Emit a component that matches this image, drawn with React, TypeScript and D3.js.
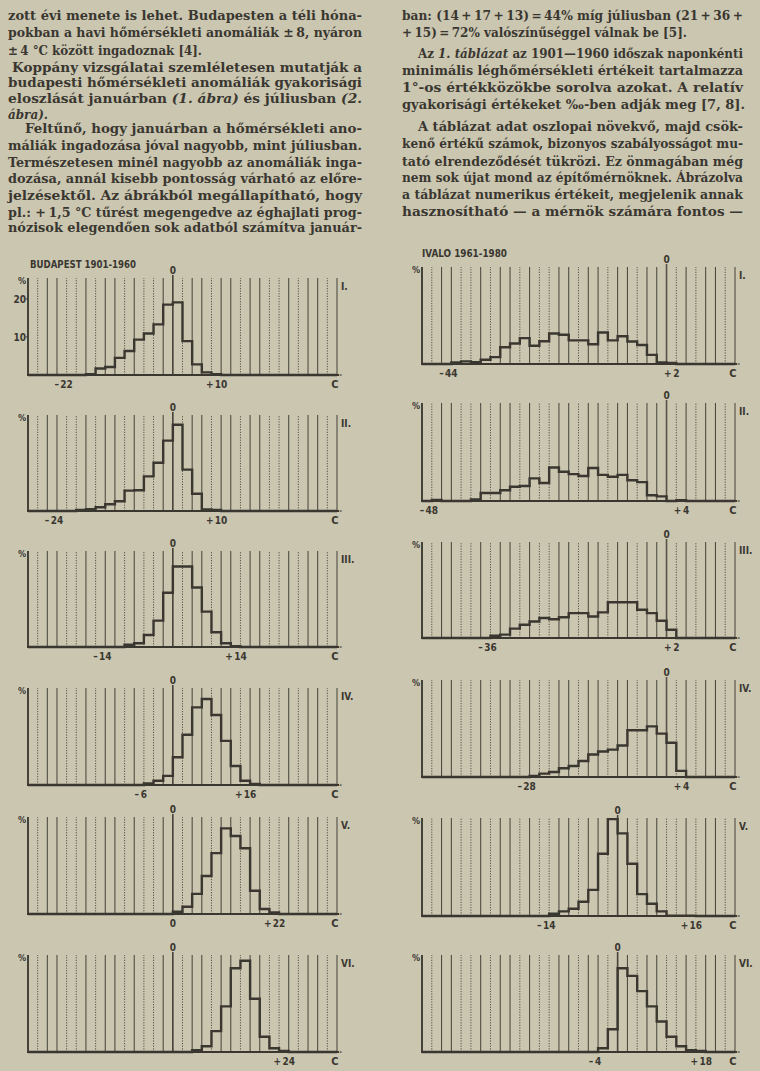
import React from "react";
import * as d3 from "d3";

// ---------- DATA ----------
// relative frequency (%) per 2 °C class, 32 classes per panel
const budI = [0,0,0,0,0,0,0.2,1.7,2.1,4.5,6.3,9.3,10.9,13.3,18.5,19.1,8.9,2.8,0.7,0.2,0,0,0,0,0,0,0,0,0,0,0,0];
const budII = [0,0,0,0,0,0.3,0.5,1.0,1.8,2.6,5.4,5.5,9.2,12.8,18.7,22.9,11.0,4.6,0.4,0.3,0,0,0,0,0,0,0,0,0,0,0,0];
const budIII = [0,0,0,0,0,0,0,0,0,0,0.6,1.0,3.2,7.0,14.4,21.4,21.4,15.8,9.4,3.9,1.0,0.2,0,0,0,0,0,0,0,0,0,0];
const budIV = [0,0,0,0,0,0,0,0,0,0,0,0,0.4,1.1,2.4,7.3,13.2,20.4,22.6,18.4,11.6,5.0,1.1,0.3,0,0,0,0,0,0,0,0];
const budV = [0,0,0,0,0,0,0,0,0,0,0,0,0,0,0,0.6,1.9,5.3,10.0,16.0,22.5,20.5,17.3,6.1,1.3,0.4,0,0,0,0,0,0];
const budVI = [0,0,0,0,0,0,0,0,0,0,0,0,0,0,0,0,0,0.5,1.5,5.5,12.0,22.0,24.0,14.0,4.0,1.0,0.3,0,0,0,0,0];

const ivaI = [0,0,0,0.4,0.7,0.5,1.1,1.8,4.4,5.4,6.8,4.8,6.0,8.0,7.7,6.2,6.2,5.2,8.3,6.2,7.3,5.9,5.0,2.4,0.4,0.3,0,0,0,0,0,0];
const ivaII = [0,0.3,0,0,0,0.4,2.1,2.1,2.8,3.7,3.9,5.9,4.7,8.7,7.6,7.0,6.5,8.6,6.8,6.3,6.8,5.4,4.9,1.5,1.2,0,0.2,0,0,0,0,0];
const ivaIII = [0,0,0,0,0,0,0,0.6,0.9,2.5,3.5,4.4,5.3,5.0,5.5,6.6,6.6,5.7,6.8,9.5,9.5,9.5,7.5,6.6,4.6,2.2,0,0,0,0,0,0];
const ivaIV = [0,0,0,0,0,0,0,0,0,0,0,0.3,0.9,1.3,2.3,2.9,4.2,5.9,6.7,7.2,8.3,12.3,12.3,13.3,11.4,9.0,1.6,0,0,0,0,0];
const ivaV = [0,0,0,0,0,0,0,0,0,0,0,0,0,0.6,1.2,1.9,3.7,6.8,16.2,25.2,21.5,13.6,5.7,3.2,1.2,0.1,0.1,0.1,0,0,0,0];
const ivaVI = [0,0,0,0,0,0,0,0,0,0,0,0,0,0,0,0,0,0,1.0,6.0,22.0,20.0,16.0,12.0,8.0,4.0,1.5,0.5,0.3,0,0,0];

const budSeries = [budI, budII, budIII, budIV, budV, budVI];
const ivaSeries = [ivaI, ivaII, ivaIII, ivaIV, ivaV, ivaVI];

// temperature at left edge of each panel (°C)
const budStart = [-30, -30, -30, -30, -30, -30];
const ivaStart = [-50, -50, -50, -50, -40, -40];

// bottom tick labels (°C)
const budTicks = [[-22, 10], [-24, 10], [-14, 14], [-6, 16], [0, 22], [24]];
const ivaTicks = [[-44, 2], [-48, 4], [-36, 2], [-28, 4], [-14, 16], [-4, 18]];
const budYTicks = [10, 20];

const months = ["I.", "II.", "III.", "IV.", "V.", "VI."];

const leftText = [
  "zott évi menete is lehet. Budapesten a téli hóna-",
  "pokban a havi hőmérsékleti anomáliák ±\u20098, nyáron",
  "±\u20094 °C között ingadoznak [4].",
  "Koppány vizsgálatai szemléletesen mutatják a",
  "budapesti hőmérsékleti anomáliák gyakorisági",
  "eloszlását januárban |(1. ábra)| és júliusban |(2.",
  "|ábra).",
  "Feltűnő, hogy januárban a hőmérsékleti ano-",
  "máliák ingadozása jóval nagyobb, mint júliusban.",
  "Természetesen minél nagyobb az anomáliák inga-",
  "dozása, annál kisebb pontosság várható az előre-",
  "jelzésektől. Az ábrákból megállapítható, hogy",
  "pl.: +\u20091,5 °C tűrést megengedve az éghajlati prog-",
  "nózisok elegendően sok adatból számítva január-",
];
const rightText = [
  "ban: (14\u2009+\u200917\u2009+\u200913)\u2009=\u200944% míg júliusban (21\u2009+\u200936\u2009+",
  "+\u200915)\u2009=\u200972% valószínűséggel válnak be [5].",
  "Az |1. táblázat| az 1901—1960 időszak naponkénti",
  "minimális léghőmérsékleti értékeit tartalmazza",
  "1°-os értékközökbe sorolva azokat. A relatív",
  "gyakorisági értékeket ‰-ben adják meg [7, 8].",
  "A táblázat adat oszlopai növekvő, majd csök-",
  "kenő értékű számok, bizonyos szabályosságot mu-",
  "tató elrendeződését tükrözi. Ez önmagában még",
  "nem sok újat mond az építőmérnöknek. Ábrázolva",
  "a táblázat numerikus értékeit, megjelenik annak",
  "hasznosítható — a mérnök számára fontos —",
];

// ---------- LAYOUT ----------
const W = 760, H = 1071;
const INK = "#3a3730";
const BG = "#cac6b0";
const LEFT = { x0: 28, x1: 337, tops: [278, 415, 551, 688, 817, 955], bases: [375, 511, 647, 785, 914, 1052] };
const RIGHT = { x0: 422, x1: 735, tops: [267, 403, 542, 680, 818, 955], bases: [364, 501, 638, 777, 916, 1052] };
const leftLines = {
  base: [20, 36.7, 55, 71.7, 86.7, 103.3, 119, 133.3, 150, 166.7, 183.3, 200, 216.7, 231.7],
  x: [8, 8, 8, 12, 8, 8, 8, 25, 8, 8, 8, 8, 8, 8],
  end: [362, 362, 202, 362, 362, 362, 48, 362, 362, 362, 362, 362, 362, 362],
};
const rightLines = {
  base: [20, 36.7, 58.3, 75, 92.3, 109, 131, 148.3, 165.7, 182.3, 199, 215.7],
  x: [402, 402, 418, 402, 402, 402, 418, 402, 402, 402, 402, 402],
  end: [743, 687, 743, 743, 743, 745, 743, 743, 743, 743, 743, 743],
};

const SERIF = "'DejaVu Serif', 'Liberation Serif', serif";
const SANS = "'DejaVu Sans Condensed', 'Liberation Sans Narrow', 'DejaVu Sans', sans-serif";

function TextLine({ s, x, y, end }: { s: string; x: number; y: number; end: number }) {
  const parts = s.split("|");
  return (
    <text x={x} y={y} textLength={end - x} lengthAdjust="spacingAndGlyphs"
      fontFamily={SERIF} fontSize={12.4} fill={INK} fontWeight={600}>
      {parts.map((p, i) => (
        <tspan key={i} fontStyle={i % 2 === 1 ? "italic" : "normal"}>{p}</tspan>
      ))}
    </text>
  );
}

function TickLabel({ x, y, v }: { x: number; y: number; v: number }) {
  const digits = String(Math.abs(v));
  const sign = v > 0 ? "+" : v < 0 ? "–" : "";
  const dw = digits.length * 5.6;
  return (
    <g fontFamily={SANS} fontSize={10} fill={INK} fontWeight={600}>
      <text x={x} y={y} textAnchor="middle">{digits}</text>
      {sign && <text x={x - dw / 2 - 2} y={y} textAnchor="end">{sign}</text>}
    </g>
  );
}

function Panel(props: {
  x0: number; x1: number; top: number; base: number; start: number;
  values: number[]; ticks: number[]; roman: string; yTicks?: number[];
}) {
  const { x0, x1, top, base, start, values, ticks, roman, yTicks } = props;
  const x = d3.scaleLinear().domain([start, start + 2 * values.length]).range([x0, x1]);
  const y = d3.scaleLinear().domain([0, 25.5]).range([base, top]);
  const pts: [number, number][] = values.flatMap((v, i) => [
    [start + 2 * i, v] as [number, number],
    [start + 2 * i + 2, v] as [number, number],
  ]);
  const path = d3.line<[number, number]>().x((d) => x(d[0])).y((d) => y(d[1]))(pts) || "";
  const gridVals = d3.range(values.length + 1).map((k) => start + 2 * k);
  return (
    <g>
      {gridVals.map((g, k) => {
        const dotted = k % 3 === 1 || k % 7 === 5;
        return (
          <line key={k} x1={x(g)} x2={x(g)} y1={base} y2={g === 0 ? top - 3 : top}
            stroke={INK} strokeWidth={k === 0 ? 2 : g === 0 ? 1.6 : 1}
            strokeDasharray={dotted && g !== 0 && k !== 0 ? "1.2,1.4" : undefined}
            opacity={dotted ? 0.8 : 0.92} />
        );
      })}
      <line x1={x0 - 1} x2={x1 + 2} y1={base} y2={base} stroke={INK} strokeWidth={2} />
      <path d={path} fill="none" stroke={INK} strokeWidth={2.4} strokeLinejoin="miter" />
      <text x={x(0)} y={top - 4} textAnchor="middle" fontFamily={SANS} fontSize={10} fontWeight={600} fill={INK}>0</text>
      {ticks.map((t, i) => (
        <TickLabel key={i} x={x(t)} y={base + 13} v={t} />
      ))}
      <text x={x1 - 2} y={base + 13} textAnchor="middle" fontFamily={SANS} fontSize={11} fontWeight={600} fill={INK}>C</text>
      <text x={x1 + 2} y={base + 4} fontFamily={SANS} fontSize={7} fill={INK}>°</text>
      <text x={x1 + 4} y={top + 12} fontFamily={SANS} fontSize={10} fontWeight={600} fill={INK}>{roman}</text>
      <text x={x0 - 2} y={top + 6} textAnchor="end" fontFamily={SANS} fontSize={9} fontWeight={600} fill={INK}>%</text>
      {(yTicks || []).map((t) => (
        <g key={t}>
          <line x1={x0 - 2} x2={x0} y1={y(t)} y2={y(t)} stroke={INK} strokeWidth={1} />
          <text x={x0 - 2} y={y(t) + 4} textAnchor="end" fontFamily={SANS} fontSize={10} fontWeight={600} fill={INK}>{t}</text>
        </g>
      ))}
    </g>
  );
}

export default function App() {
  return (
    <svg width={W} height={H} viewBox={`0 0 ${W} ${H}`}
      style={{ position: "absolute", left: 0, top: 0, display: "block" }}>
      <rect x={0} y={0} width={W} height={H} fill={BG} />
      {leftText.map((s, i) => (
        <TextLine key={"l" + i} s={s} x={leftLines.x[i]} y={leftLines.base[i]} end={leftLines.end[i]} />
      ))}
      {rightText.map((s, i) => (
        <TextLine key={"r" + i} s={s} x={rightLines.x[i]} y={rightLines.base[i]} end={rightLines.end[i]} />
      ))}
      <text x={30} y={268} textLength={106} lengthAdjust="spacingAndGlyphs"
        fontFamily={SANS} fontSize={11} fontWeight={600} fill={INK}>BUDAPEST  1901-1960</text>
      <text x={422} y={257} textLength={85} lengthAdjust="spacingAndGlyphs"
        fontFamily={SANS} fontSize={11} fontWeight={600} fill={INK}>IVALO  1961-1980</text>
      {budSeries.map((vals, i) => (
        <Panel key={"b" + i} x0={LEFT.x0} x1={LEFT.x1} top={LEFT.tops[i]} base={LEFT.bases[i]}
          start={budStart[i]} values={vals} ticks={budTicks[i]} roman={months[i]}
          yTicks={i === 0 ? budYTicks : undefined} />
      ))}
      {ivaSeries.map((vals, i) => (
        <Panel key={"v" + i} x0={RIGHT.x0} x1={RIGHT.x1} top={RIGHT.tops[i]} base={RIGHT.bases[i]}
          start={ivaStart[i]} values={vals} ticks={ivaTicks[i]} roman={months[i]} />
      ))}
    </svg>
  );
}
